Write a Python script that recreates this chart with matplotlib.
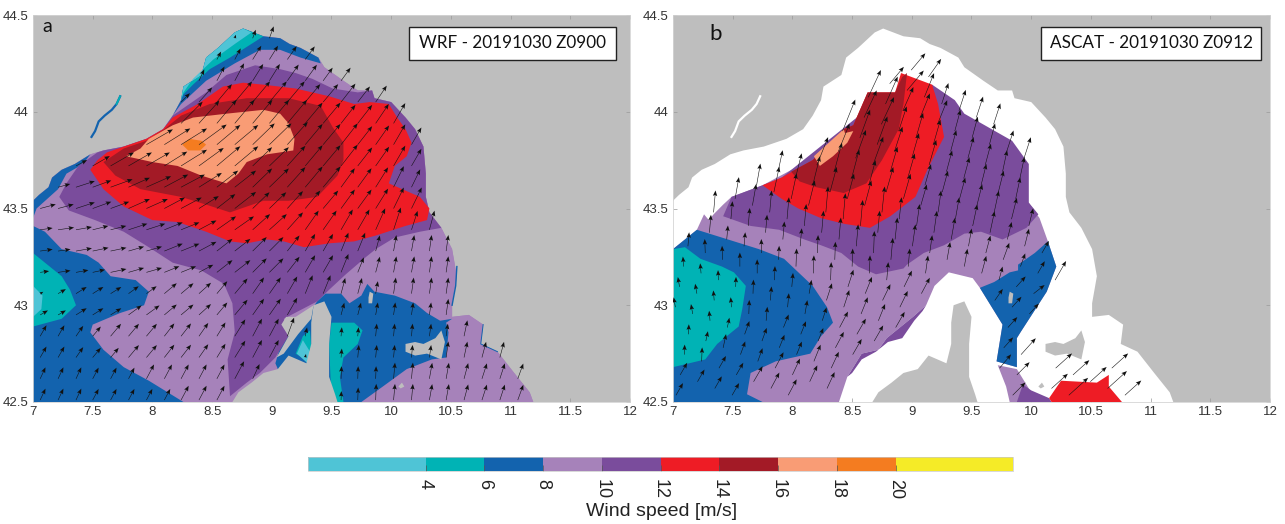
import numpy as np
import matplotlib
matplotlib.use("Agg")
import matplotlib.pyplot as plt
from matplotlib.colors import ListedColormap, BoundaryNorm
from matplotlib.colorbar import ColorbarBase
from matplotlib.patches import Rectangle
from matplotlib.path import Path

plt.rcParams['font.family'] = ['Liberation Sans', 'DejaVu Sans']

# wind speed classes
levels = [0, 4, 6, 8, 10, 12, 14, 16, 18, 20, 24]
colors = ['#4FC4D6', '#00B3B5', '#1363AE', '#A682BA', '#7A4C9C', '#EE1C25', '#A31A26', '#F99C75', '#F47C20', '#F5EB27']
CYAN, TEAL, BLUE, LILAC, PURPLE, RED, DARK, PEACH, ORANGE = 0, 1, 2, 3, 4, 5, 6, 7, 8
cbar_ticks = [4, 6, 8, 10, 12, 14, 16, 18, 20]
lon_ticks = [7, 7.5, 8, 8.5, 9, 9.5, 10, 10.5, 11, 11.5, 12]
lat_ticks = [42.5, 43, 43.5, 44, 44.5]
title_a = 'WRF - 20191030 Z0900'
title_b = 'ASCAT - 20191030 Z0912'

# coast and land (lon, lat)
sea = [(7,43.54),(7.05,43.57),(7.13,43.61),(7.16,43.66),(7.24,43.70),(7.35,43.73),(7.48,43.78),(7.59,43.80),(7.76,43.82),(7.95,43.86),(8.09,43.91),(8.17,43.98),(8.24,44.06),(8.26,44.13),(8.41,44.19),(8.45,44.28),(8.55,44.33),(8.69,44.41),(8.76,44.43),(8.93,44.39),(9.07,44.38),(9.15,44.35),(9.24,44.33),(9.39,44.28),(9.44,44.23),(9.60,44.16),(9.72,44.11),(9.84,44.11),(9.86,44.07),(10.0,44.05),(10.12,43.97),(10.2,43.91),(10.27,43.82),(10.29,43.68),(10.29,43.56),(10.32,43.48),(10.42,43.40),(10.51,43.29),(10.55,43.15),(10.51,43.01),(10.51,42.94),(10.65,42.95),(10.77,42.90),(10.75,42.80),(10.89,42.76),(11.03,42.65),(11.16,42.55),(11.19,42.5),(7,42.5)]
corsica = [(8.67,42.5),(8.72,42.55),(8.83,42.6),(8.93,42.65),(9.05,42.67),(9.14,42.74),(9.29,42.7),(9.33,42.8),(9.33,42.91),(9.35,43.0),(9.44,43.02),(9.5,42.94),(9.48,42.8),(9.48,42.63),(9.53,42.54),(9.55,42.5)]
wedge = [(9.08,42.9),(9.12,42.94),(9.2,42.94),(9.35,43.0),(9.33,42.93),(9.22,42.85),(9.1,42.75),(9.04,42.73),(9.14,42.84)]
elba = [(10.12,42.8),(10.2,42.81),(10.27,42.8),(10.37,42.83),(10.42,42.87),(10.45,42.81),(10.42,42.72),(10.3,42.75),(10.2,42.74),(10.12,42.76)]
capraia = [(9.81,43.04),(9.82,43.07),(9.85,43.06),(9.84,43.01),(9.81,43.01)]
pianosa = [(10.06,42.58),(10.09,42.6),(10.11,42.58),(10.08,42.57)]
river = [(7.73,44.08),(7.7,44.04),(7.66,44.01),(7.6,43.98),(7.55,43.95),(7.52,43.9),(7.49,43.87)]
a_coast_line = [(10.55,43.2),(10.54,43.1),(10.51,43.0)]
a_coast_line2 = [(10.77,42.9),(10.75,42.8),(10.89,42.76)]

# WRF panel classes, painted in order
a_west_blue = [(7,43.41),(7.1,43.38),(7.24,43.29),(7.45,43.26),(7.55,43.22),(7.65,43.15),(7.86,43.13),(7.97,43.07),(7.93,43.0),(7.73,42.96),(7.5,42.9),(7.48,42.86),(7.59,42.77),(7.76,42.68),(7.97,42.61),(8.26,42.5),(7,42.5)]
a_west_teal = [(7,43.27),(7.24,43.15),(7.31,43.08),(7.36,43.0),(7.24,42.93),(7,42.89)]
a_west_cyan = [(7,43.1),(7.08,43.05),(7.07,42.98),(7,42.94)]
a_nw_blue = [(7,43.54),(7.05,43.57),(7.13,43.61),(7.16,43.66),(7.24,43.70),(7.35,43.73),(7.48,43.78),(7.42,43.73),(7.28,43.68),(7.21,43.6),(7.12,43.55),(7.03,43.5),(7,43.45)]
a_north_blue = [(8.17,43.98),(8.24,44.06),(8.26,44.13),(8.41,44.19),(8.45,44.28),(8.55,44.33),(8.69,44.41),(8.76,44.43),(8.93,44.39),(9.07,44.38),(9.15,44.35),(9.24,44.33),(9.39,44.28),(9.41,44.25),(9.24,44.28),(9.07,44.32),(8.9,44.32),(8.69,44.25),(8.45,44.16),(8.24,44.04)]
a_north_teal = [(8.24,44.06),(8.26,44.13),(8.41,44.19),(8.45,44.28),(8.55,44.33),(8.69,44.41),(8.76,44.43),(8.93,44.39),(8.65,44.28),(8.48,44.22),(8.34,44.14),(8.26,44.09)]
a_north_cyan = [(8.24,44.06),(8.26,44.13),(8.41,44.19),(8.45,44.28),(8.55,44.33),(8.69,44.41),(8.76,44.43),(8.83,44.41),(8.69,44.35),(8.51,44.27),(8.34,44.17),(8.26,44.1)]
a_east_blue = [(10.51,42.93),(10.46,42.91),(10.48,42.86),(10.46,42.73),(10.34,42.72),(10.13,42.67),(9.93,42.58),(9.75,42.5),(9.45,42.5),(9.1,42.6),(9.03,42.7),(9.1,42.85),(9.3,42.95),(9.38,43.02),(9.45,43.06),(9.58,43.06),(9.65,43.01),(9.75,43.05),(9.8,43.11),(9.86,43.07),(10.03,43.05),(10.2,43.01),(10.3,42.96),(10.41,42.92)]
a_east_teal = [(9.5,42.91),(9.69,42.91),(9.76,42.87),(9.72,42.8),(9.6,42.73),(9.57,42.63),(9.6,42.5),(9.5,42.5),(9.48,42.8)]
a_cors_teal = [(9.26,42.84),(9.32,42.87),(9.34,42.7),(9.28,42.72),(9.2,42.75)]
a_cors_cyan = [(9.26,42.82),(9.33,42.75),(9.3,42.7),(9.21,42.75)]
a_purple = [(7.54,43.79),(7.59,43.80),(7.76,43.82),(7.95,43.86),(8.09,43.91),(8.17,43.98),(8.45,44.10),(8.62,44.19),(8.86,44.24),(9.07,44.22),(9.2,44.2),(9.34,44.17),(9.51,44.12),(9.72,44.10),(9.84,44.11),(9.86,44.07),(10.0,44.05),(10.12,43.97),(10.2,43.91),(10.27,43.82),(10.29,43.68),(10.29,43.56),(10.32,43.48),(10.42,43.40),(10.24,43.38),(10.03,43.35),(9.87,43.29),(9.79,43.25),(9.62,43.16),(9.48,43.08),(9.38,43.02),(9.1,42.93),(9.14,42.84),(9.03,42.73),(8.9,42.65),(8.79,42.6),(8.65,42.53),(8.63,42.72),(8.69,42.86),(8.67,43.01),(8.6,43.11),(8.41,43.18),(8.17,43.22),(7.97,43.3),(7.76,43.38),(7.52,43.44),(7.3,43.49),(7.22,43.56),(7.28,43.63),(7.38,43.72)]
a_red = [(7.48,43.7),(7.54,43.75),(7.62,43.79),(7.76,43.82),(7.95,43.86),(8.09,43.91),(8.17,43.97),(8.38,44.04),(8.59,44.13),(8.76,44.15),(8.93,44.14),(9.2,44.12),(9.48,44.08),(9.69,44.04),(9.82,44.05),(9.98,44.04),(10.05,43.97),(10.12,43.91),(10.17,43.84),(10.13,43.77),(10.03,43.72),(9.98,43.63),(10.24,43.56),(10.32,43.5),(10.3,43.44),(10.12,43.41),(9.87,43.36),(9.69,43.33),(9.48,43.32),(9.27,43.3),(9.1,43.33),(8.96,43.34),(8.79,43.32),(8.65,43.33),(8.45,43.38),(8.21,43.43),(8,43.44),(7.83,43.49),(7.76,43.51),(7.59,43.6)]
a_dark = [(7.59,43.74),(7.76,43.81),(7.95,43.85),(8.1,43.91),(8.24,43.98),(8.48,44.04),(8.79,44.07),(9.14,44.07),(9.41,44.03),(9.51,43.92),(9.6,43.84),(9.6,43.75),(9.55,43.67),(9.38,43.56),(9.14,43.54),(8.93,43.54),(8.79,43.51),(8.65,43.48),(8.45,43.52),(8.24,43.56),(7.9,43.6),(7.69,43.67)]
a_peach = [(7.78,43.77),(7.9,43.81),(7.97,43.86),(8.17,43.93),(8.34,43.97),(8.62,43.99),(8.93,44.01),(9.07,43.99),(9.14,43.94),(9.19,43.86),(9.18,43.8),(8.96,43.78),(8.79,43.74),(8.72,43.68),(8.62,43.63),(8.41,43.67),(8.21,43.72),(8.0,43.74)]
a_orange = [(8.25,43.83),(8.31,43.86),(8.41,43.85),(8.45,43.83),(8.4,43.8),(8.3,43.8)]
layers_a = [(LILAC, sea), (BLUE, a_west_blue), (TEAL, a_west_teal), (CYAN, a_west_cyan), (BLUE, a_nw_blue),
            (BLUE, a_north_blue), (TEAL, a_north_teal), (CYAN, a_north_cyan), (BLUE, a_east_blue), (TEAL, a_east_teal),
            (TEAL, a_cors_teal), (CYAN, a_cors_cyan), (PURPLE, a_purple), (RED, a_red), (DARK, a_dark),
            (PEACH, a_peach), (ORANGE, a_orange)]

# ASCAT panel classes, painted in order
b_lilac = [(7,43.29),(7.2,43.39),(7.26,43.47),(7.3,43.44),(7.34,43.47),(7.42,43.52),(7.49,43.56),(7.75,43.62),(8.6,43.9),(9.98,43.53),(10.07,43.45),(10.14,43.33),(10.21,43.2),(10.13,43.07),(9.91,42.86),(9.88,42.83),(9.88,42.68),(9.71,42.71),(9.76,42.9),(9.57,43.09),(9.51,43.14),(9.31,43.17),(9.19,43.1),(9.12,43),(9.01,42.94),(8.93,42.9),(8.79,42.83),(8.72,42.77),(8.58,42.75),(8.46,42.63),(8.39,42.5),(7,42.5)]
b_west_blue = [(7,43.29),(7.2,43.39),(7.72,43.29),(7.93,43.24),(8.05,43.17),(8.17,43.1),(8.29,42.99),(8.34,42.91),(8.24,42.84),(8.15,42.75),(7.86,42.71),(7.65,42.65),(7.62,42.54),(7.75,42.5),(7,42.5)]
b_west_teal = [(7,43.29),(7.1,43.3),(7.23,43.24),(7.41,43.2),(7.51,43.17),(7.61,43.1),(7.58,42.98),(7.55,42.89),(7.37,42.8),(7.27,42.72),(7,42.68)]
b_east_blue = [(10.14,43.33),(10.21,43.2),(10.13,43.07),(9.91,42.86),(9.88,42.83),(9.88,42.68),(9.71,42.71),(9.76,42.9),(9.57,43.09),(9.69,43.12),(9.82,43.17),(9.89,43.18),(9.89,43.21),(10.03,43.27)]
b_purple = [(7.49,43.56),(7.75,43.62),(7.91,43.66),(8.6,44),(9.17,44.14),(9.36,44.06),(9.44,43.99),(9.84,43.85),(9.98,43.73),(9.98,43.53),(10.06,43.47),(9.96,43.4),(9.76,43.34),(9.58,43.38),(9.44,43.37),(9.27,43.31),(9.1,43.27),(8.96,43.21),(8.93,43.19),(8.7,43.16),(8.55,43.2),(8.41,43.27),(8.24,43.31),(8.1,43.34),(7.89,43.39),(7.65,43.41),(7.42,43.46)]
b_sliver = [(8.46,42.63),(8.58,42.75),(8.72,42.77),(8.79,42.83),(8.93,42.9),(9.01,42.94),(9.12,43.0),(9.09,42.97),(9.02,42.92),(8.92,42.83),(8.8,42.81),(8.7,42.76),(8.58,42.72),(8.5,42.65)]
b_red = [(7.75,43.62),(7.91,43.66),(8.17,43.75),(8.43,43.91),(8.51,43.93),(8.63,44.1),(8.86,44.1),(8.91,44.2),(9.17,44.14),(9.22,44.04),(9.27,43.87),(9.13,43.7),(9.03,43.56),(8.82,43.46),(8.65,43.4),(8.44,43.42),(8.24,43.45),(8.05,43.5),(7.91,43.55)]
b_dark = [(7.99,43.69),(8.17,43.75),(8.43,43.91),(8.51,43.93),(8.63,44.1),(8.86,44.1),(8.92,44.18),(8.96,44.2),(8.93,44.04),(8.89,43.91),(8.75,43.75),(8.62,43.63),(8.43,43.58),(8.2,43.61),(8.06,43.64)]
b_peach = [(8.18,43.77),(8.43,43.91),(8.44,43.89),(8.51,43.9),(8.46,43.84),(8.34,43.77),(8.23,43.72)]
b_south_lilac = [(9.72,42.69),(9.88,42.67),(10,42.55),(10.17,42.5),(9.82,42.5),(9.79,42.58)]
b_south_purple = [(9.93,42.59),(10,42.56),(10.15,42.52),(10.17,42.5),(9.88,42.5)]
b_south_red = [(10.15,42.52),(10.25,42.61),(10.55,42.6),(10.65,42.64),(10.65,42.58),(10.76,42.5),(10.17,42.5)]
layers_b = [(LILAC, b_lilac), (BLUE, b_west_blue), (TEAL, b_west_teal), (BLUE, b_east_blue), (PURPLE, b_purple),
            (PURPLE, b_sliver), (RED, b_red), (DARK, b_dark), (PEACH, b_peach),
            (LILAC, b_south_lilac), (PURPLE, b_south_purple), (RED, b_south_red)]
b_arrow_area = [(7,43.3),(7.2,43.42),(7.5,43.6),(7.9,43.7),(8.17,43.78),(8.43,43.95),(8.63,44.15),(8.95,44.25),(9.2,44.16),(9.4,44.06),(9.85,43.87),(10,43.72),(10,43.5),(10.15,43.33),(10.25,43.2),(10.18,43.07),(9.93,42.86),(9.92,42.73),(9.9,42.65),(10.05,42.58),(10.2,42.68),(10.7,42.68),(10.85,42.5),(9.82,42.5),(9.78,42.58),(9.72,42.7),(9.76,42.9),(9.57,43.09),(9.5,43.14),(9.31,43.17),(9.19,43.1),(9.12,43),(9.0,42.93),(8.79,42.83),(8.72,42.77),(8.58,42.75),(8.46,42.63),(8.39,42.5),(7,42.5)]

# wind direction on screen (degrees from east) per 0.25 x 0.2 degree box; first row is the south
dir_a = [
 [65,65,62,62,62,62,62,65,70,75,88,88,85,80,75,72,70],
 [60,55,50,50,52,55,58,62,70,78,85,85,85,82,78,75,72],
 [30,32,32,36,40,42,50,55,60,68,75,80,82,82,80,80,80],
 [8,10,12,16,22,28,38,45,52,60,68,75,80,82,82,82,82],
 [8,10,14,18,22,28,35,42,48,55,60,66,72,75,75,75,75],
 [15,18,20,24,28,32,38,44,48,50,54,58,64,68,70,70,70],
 [25,28,30,30,32,36,40,44,48,50,52,55,60,65,65,65,65],
 [40,40,40,42,45,48,50,50,50,50,52,56,60,60,60,60,60],
 [60,60,60,62,64,65,62,58,55,54,54,54,54,54,54,54,54],
 [75,75,75,75,75,75,72,70,65,65,65,65,65,65,65,65,65]]
dir_b = [
 [60,60,60,62,65,65,65,65,65,50,50,45,42,42,42,42,42],
 [88,78,70,68,68,62,60,60,60,55,50,48,42,42,42,42,42],
 [100,95,88,85,80,72,68,64,62,60,55,48,38,35,35,35,35],
 [95,92,90,88,88,88,88,85,82,80,75,70,60,55,55,55,55],
 [85,85,85,85,85,85,85,84,82,80,78,76,76,76,76,76,76],
 [80,80,80,78,76,75,75,74,74,75,76,78,78,78,78,78,78],
 [70,70,70,70,68,68,70,72,74,75,75,72,70,70,70,70,70],
 [65,65,65,65,65,65,65,66,68,72,72,70,70,70,70,70,70],
 [50,50,50,50,50,50,50,50,55,60,60,60,60,60,60,60,60],
 [50,50,50,50,50,50,50,50,55,60,60,60,60,60,60,60,60]]
wrf_lons = [7.06,7.21,7.36,7.50,7.65,7.80,7.95,8.10,8.24,8.39,8.54,8.69,8.84,8.98,9.13,9.28,9.43,9.58,9.72,9.87,10.02,10.17,10.32,10.46,10.61,10.76,10.91,11.06]
wrf_lats = [42.51,42.62,42.73,42.84,42.95,43.06,43.17,43.28,43.39,43.50,43.61,43.72,43.83,43.94,44.05,44.16,44.27,44.38]
# ASCAT swath cells along and across track
ascat_along, ascat_across = np.meshgrid(np.arange(30), np.arange(23))
ascat_lons = 6.7 + 0.145 * ascat_along + 0.035 * ascat_across
ascat_lats = 42.5 - 0.035 * ascat_along + 0.105 * ascat_across

W, H = 1285, 524
fig = plt.figure(figsize=(W / 100, H / 100), dpi=100, facecolor='white')


def pix_axes(x0, y0, x1, y1):
    return fig.add_axes([x0 / W, 1 - y1 / H, (x1 - x0) / W, (y1 - y0) / H])


def speed_mid(k):
    return (levels[k] + levels[k + 1]) / 2


def panel(ax, layers, sea_color, river_color, lands):
    ax.set_facecolor('#BEBEBE')
    ax.fill(*zip(*sea), color=sea_color, lw=0, zorder=1)
    ax.plot(*zip(*river), color=river_color, lw=1.6, zorder=1)
    for k, poly in layers:
        ax.fill(*zip(*poly), color=colors[k], lw=0, zorder=2)
    for poly in lands:
        ax.fill(*zip(*poly), color='#BEBEBE', lw=0, zorder=3)
    ax.set_xlim(7, 12)
    ax.set_ylim(42.5, 44.5)
    ax.set_xticks(lon_ticks)
    ax.set_xticklabels([f'{v:g}' for v in lon_ticks])
    ax.set_yticks(lat_ticks)
    ax.set_yticklabels([f'{v:g}' for v in lat_ticks])
    ax.tick_params(direction='in', top=True, right=True, length=3, width=0.5, color='#999999',
                   labelsize=9.5, labelcolor='#333333', pad=3)
    for s in ax.spines.values():
        s.set_color('#d4d4d4')
        s.set_linewidth(0.6)


def arrows(ax, lon, lat, table, layers, default, px_per_ms, keep):
    lon, lat = np.ravel(lon), np.ravel(lat)
    pts = np.column_stack([lon, lat])
    mask = np.zeros(len(pts), bool)
    for area in keep:
        mask |= Path(area).contains_points(pts)
    spd = np.full(len(pts), float(default))
    for k, poly in layers:
        spd[Path(poly).contains_points(pts)] = speed_mid(k)
    tab = np.array(table, float)
    col = np.clip(((lon - 7) / 0.25).astype(int), 0, 16)
    row = np.clip(((lat - 42.5) / 0.2).astype(int), 0, 9)
    ang = np.radians(tab[row, col])
    ax.quiver(lon[mask], lat[mask], (spd * np.cos(ang))[mask], (spd * np.sin(ang))[mask],
              angles='uv', units='dots', scale_units='dots', scale=1 / px_per_ms, pivot='tail',
              width=0.55, headwidth=8, headlength=10, headaxislength=8.5, color='#111111', zorder=4)


ax_a = pix_axes(33, 15, 630, 402)
panel(ax_a, layers_a, colors[LILAC], colors[BLUE], [corsica, wedge, elba, capraia, pianosa])
ax_a.plot(*zip(*river[:2]), color=colors[TEAL], lw=1.2, zorder=1)
ax_a.plot(*zip(*a_coast_line), color=colors[BLUE], lw=1.0, zorder=2)
ax_a.plot(*zip(*a_coast_line2), color=colors[BLUE], lw=0.7, zorder=2)
wx, wy = np.meshgrid(wrf_lons, wrf_lats)
land = [Path(p) for p in (corsica, wedge, elba)]
keep_pts = np.column_stack([wx.ravel(), wy.ravel()])
on_land = np.zeros(len(keep_pts), bool)
for p in land:
    on_land |= p.contains_points(keep_pts)
arrows(ax_a, wx.ravel()[~on_land], wy.ravel()[~on_land], dir_a, layers_a, 9, 1.8, [sea])

ax_b = pix_axes(673, 15, 1270, 402)
panel(ax_b, layers_b, 'white', 'white', [corsica, elba, capraia, pianosa])
arrows(ax_b, ascat_lons, ascat_lats, dir_b, layers_b, 11, 2.0, [b_arrow_area])


def label_box(text, x0, y0, x1, y1, size):
    fig.add_artist(Rectangle((x0 / W, 1 - y1 / H), (x1 - x0) / W, (y1 - y0) / H, transform=fig.transFigure,
                             facecolor='white', edgecolor='#222222', lw=1.0, zorder=10))
    fig.text((x0 + x1) / 2 / W, 1 - (y0 + y1) / 2 / H, text, ha='center', va='center', fontsize=size,
             family='Lato', color='#111111', zorder=11)


label_box(title_a, 409, 27, 616, 60, 12.3)
label_box(title_b, 1041, 27, 1261, 60, 12.3)
fig.text(47 / W, 1 - 27 / H, 'a', ha='center', va='center', fontsize=14, family='Lato', color='#111111', zorder=11)
fig.text(716 / W, 1 - 34 / H, 'b', ha='center', va='center', fontsize=16, family='Lato', color='#111111', zorder=11)

cax = pix_axes(308, 457, 1013, 471)
cb = ColorbarBase(cax, cmap=ListedColormap(colors), norm=BoundaryNorm(levels, len(colors)),
                  orientation='horizontal', spacing='proportional', ticks=cbar_ticks, drawedges=False)
cb.set_ticklabels([str(v) for v in cbar_ticks])
cb.minorticks_off()
cb.outline.set_edgecolor('#c8c8c8')
cb.outline.set_linewidth(0.5)
cax.tick_params(axis='x', direction='in', length=4, width=0.5, color='#555555', labelsize=13,
                labelrotation=270, labelcolor='#222222', pad=6)
fig.text(662 / W, 1 - 511 / H, 'Wind speed [m/s]', ha='center', va='center', fontsize=14, color='#222222')

fig.savefig('out.png', dpi=100, facecolor='white')
